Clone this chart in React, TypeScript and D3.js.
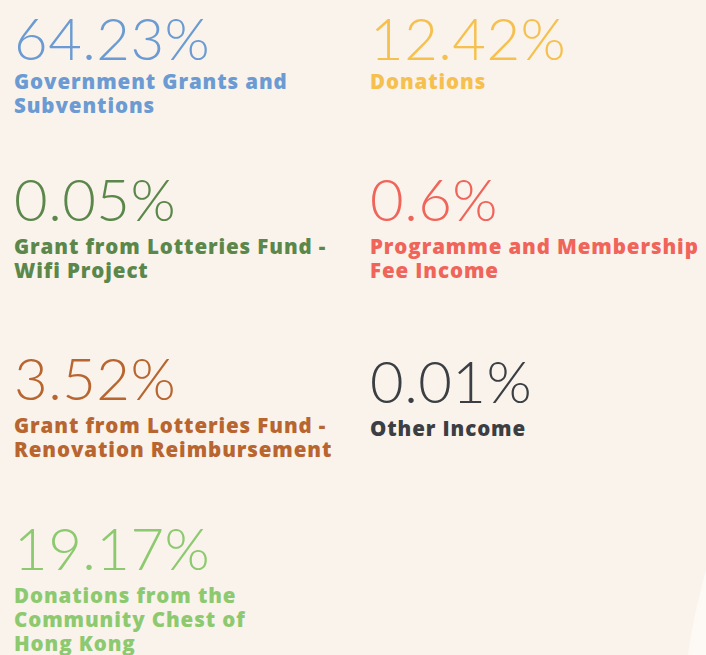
import { useEffect, useRef } from 'react';
import * as d3 from 'd3';

// income breakdown
const shares = ['64.23%', '12.42%', '0.05%', '0.6%', '3.52%', '0.01%', '19.17%'];
const labels = [
  ['Government Grants and', 'Subventions'],
  ['Donations'],
  ['Grant from Lotteries Fund -', 'Wifi Project'],
  ['Programme and Membership', 'Fee Income'],
  ['Grant from Lotteries Fund -', 'Renovation Reimbursement'],
  ['Other Income'],
  ['Donations from the', 'Community Chest of', 'Hong Kong'],
];
const colors = ['#6b9bd2', '#f6c04e', '#5b874a', '#f0645a', '#b8652f', '#3b3e42', '#8dc96f'];

const W = 706, H = 655;
// baseline of the big number in each row
const rowBase = [60, 221, 400, 570];

export default function App() {
  const svgRef = useRef<SVGSVGElement>(null);

  useEffect(() => {
    document.body.style.margin = '0';
    if (!svgRef.current) return;
    const svg = d3.select(svgRef.current);
    svg.selectAll('*').remove();

    svg.append('rect').attr('width', W).attr('height', H).attr('fill', '#f9f3ec');

    // faint white swoosh bottom right
    svg.append('path')
      .attr('d', `M${W},570 C${W - 8},600 ${W - 15},630 ${W - 18},${H} L${W},${H} Z`)
      .attr('fill', '#fdfaf6');

    const col = d3.scaleOrdinal<number, number>().domain([0, 1]).range([14, 370]);

    const items = svg.selectAll('g.item')
      .data(shares.map((s, i) => ({ s, i, lines: labels[i], c: colors[i], row: Math.floor(i / 2) })))
      .enter().append('g')
      .attr('class', 'item')
      .attr('transform', d => `translate(${col(d.i % 2)},${rowBase[d.row] + (d.i === 5 ? 3 : 0)})`);

    items.append('text')
      .attr('x', 0).attr('y', 0)
      .attr('fill', d => d.c)
      .attr('font-family', 'Lato, sans-serif')
      .attr('font-weight', 300)
      .attr('font-size', 58)
      .attr('letter-spacing', 0.5)
      .text(d => d.s);

    const lab = items.append('text')
      .attr('x', 0).attr('y', d => (d.row === 0 ? 29 : 33))
      .attr('fill', d => d.c)
      .attr('font-family', "'Open Sans', sans-serif")
      .attr('font-weight', 800)
      .attr('font-size', 20.5)
      .attr('letter-spacing', 0.9);

    lab.selectAll('tspan')
      .data(d => d.lines)
      .enter().append('tspan')
      .attr('x', 0)
      .attr('dy', (_, j) => (j === 0 ? 0 : 24))
      .text(t => t);
  }, []);

  return <svg ref={svgRef} width={W} height={H} style={{ display: 'block' }} />;
}
